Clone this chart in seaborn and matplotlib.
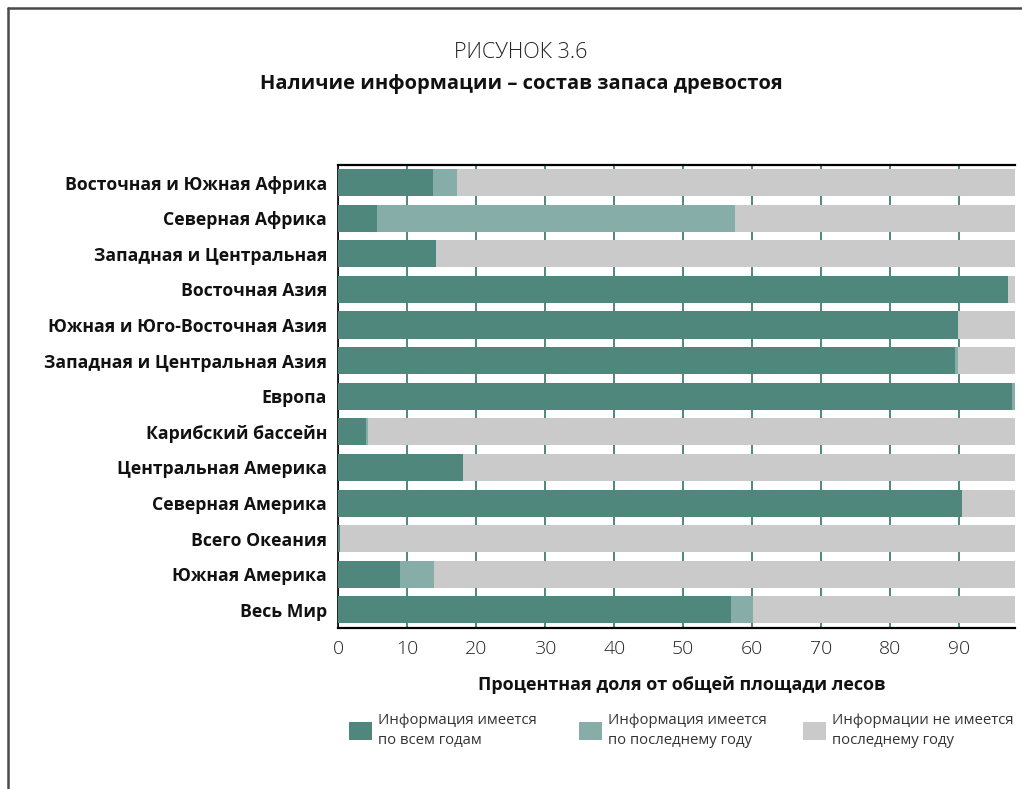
import matplotlib
matplotlib.use("Agg")
import matplotlib.pyplot as plt
from matplotlib.patches import Patch
from matplotlib.transforms import Bbox, TransformedBbox
import seaborn as sns
import pandas as pd

regions = [
    "Восточная и Южная Африка",
    "Северная Африка",
    "Западная и Центральная",
    "Восточная Азия",
    "Южная и Юго-Восточная Азия",
    "Западная и Центральная Азия",
    "Европа",
    "Карибский бассейн",
    "Центральная Америка",
    "Северная Америка",
    "Всего Океания",
    "Южная Америка",
    "Весь Мир",
]
all_years = [13.7, 5.6, 14.1, 97.1, 89.8, 89.4, 97.6, 4.0, 18.1, 90.4, 0.2, 8.9, 57.0]
latest_year = [3.5, 51.9, 0.1, 0.0, 0.0, 0.4, 0.5, 0.3, 0.0, 0.0, 0.0, 5.0, 3.1]
no_info = [round(100 - a - b, 1) for a, b in zip(all_years, latest_year)]

series_labels = [
    "Информация имеется\nпо всем годам",
    "Информация имеется\nпо последнему году",
    "Информации не имеется\nпоследнему году",
]
colors = ["#4f877c", "#86ada8", "#cacaca"]
x_ticks = [0, 10, 20, 30, 40, 50, 60, 70, 80, 90]

df = pd.DataFrame({
    "region": regions,
    "all": all_years,
    "latest": latest_year,
    "none": no_info,
})
df["cum_all"] = df["all"]
df["cum_latest"] = df["all"] + df["latest"]
df["cum_none"] = df["cum_latest"] + df["none"]

sns.set_theme(style="white")
plt.rcParams["font.family"] = ["Open Sans", "DejaVu Sans"]

fig = plt.figure(figsize=(10.22, 7.89), dpi=100)
W, H = 1022, 789
ax = fig.add_axes([338.3 / W, 1 - 627.7 / H, (1015 - 338.3) / W, (627.7 - 164.7) / H])

# stacked bars: draw cumulative totals back to front
for col, c in zip(["cum_none", "cum_latest", "cum_all"], colors[::-1]):
    sns.barplot(data=df, x=col, y="region", orient="h", color=c,
                width=0.76, ax=ax, saturation=1, zorder=3, linewidth=0)

ax.set_xlim(0, 98.1)
ax.set_ylim(12.5, -0.5)
ax.set_xticks(x_ticks)
ax.set_xticklabels([str(t) for t in x_ticks])
ax.xaxis.grid(True, color="#4f877c", linewidth=1.4, zorder=0)
ax.set_axisbelow(True)
ax.tick_params(axis="x", length=0, pad=9, labelsize=14, labelcolor="#222222")
ax.tick_params(axis="y", length=0, pad=8, labelsize=12.7)
for lbl in ax.get_yticklabels():
    lbl.set_fontweight("bold")
    lbl.set_color("#111111")
for lbl in ax.get_xticklabels():
    lbl.set_fontweight("light")

ax.set_ylabel("")
ax.set_xlabel("Процентная доля от общей площади лесов", fontsize=13,
              fontweight="bold", color="#111111")
ax.xaxis.set_label_coords(0.508, -0.105)

for side in ["top", "bottom"]:
    ax.spines[side].set_color("black")
    ax.spines[side].set_linewidth(1.6)
ax.spines["left"].set_color("black")
ax.spines["left"].set_linewidth(1.2)
ax.spines["left"].set_zorder(1)
ax.spines["right"].set_visible(False)

# titles
fig.text(521 / W, 1 - 52 / H, "РИСУНОК 3.6", ha="center", va="center",
         fontsize=15.5, fontweight="light", color="#222222")
fig.text(521 / W, 1 - 84 / H, "Наличие информации – состав запаса древостоя",
         ha="center", va="center", fontsize=14.5, fontweight="bold", color="#111111")

# legend, one entry per block
clip = TransformedBbox(Bbox([[0, 0], [1015 / W, 1]]), fig.transFigure)
legend_x = [349, 579, 803]
for lx, lab, c in zip(legend_x, series_labels, colors):
    leg = fig.legend(handles=[Patch(facecolor=c, edgecolor="none", label=lab)],
                     loc="upper left", bbox_to_anchor=(lx / W, 1 - 713 / H),
                     frameon=False, fontsize=10.7, handlelength=1.55,
                     handleheight=1.5, handletextpad=0.4, borderpad=0,
                     borderaxespad=0, labelspacing=0)
    for t in leg.get_texts():
        t.set_color("#333333")
        t.set_linespacing(1.45)
        t.set_clip_box(clip)
        t.set_clip_on(True)

# page frame on the top and left
fig.add_artist(plt.Line2D([7.5 / W, 7.5 / W], [0, 1 - 7.5 / H], transform=fig.transFigure,
                          color="#4a4a4a", linewidth=1.8))
fig.add_artist(plt.Line2D([7.5 / W, 1], [1 - 7.5 / H, 1 - 7.5 / H], transform=fig.transFigure,
                          color="#4a4a4a", linewidth=1.8))

fig.savefig("out.png", dpi=100)
